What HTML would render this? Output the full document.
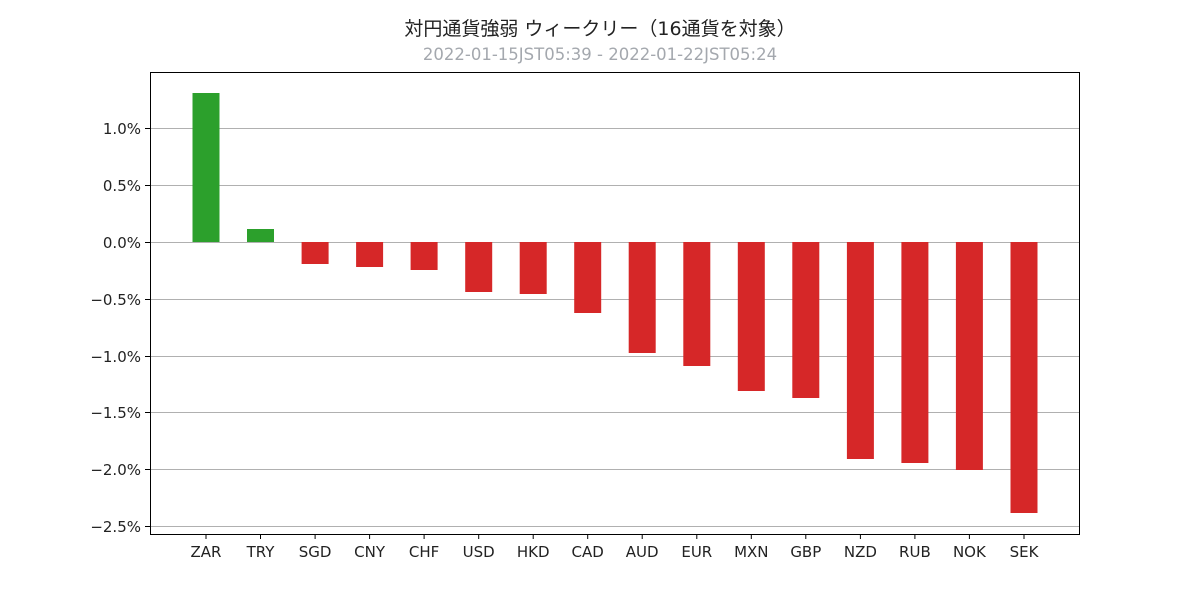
<!DOCTYPE html>
<html><head><meta charset="utf-8"><style>
body{margin:0;background:#fff;}
svg text{font-family:"DejaVu Sans","Noto Sans CJK JP",sans-serif;}
</style></head><body>
<svg width="1200" height="600" xmlns="http://www.w3.org/2000/svg">
<rect width="1200" height="600" fill="#fff"/>
<text x="600" y="35" text-anchor="middle" font-size="19" fill="#222">対円通貨強弱 ウィークリー（16通貨を対象）</text>
<text x="600" y="60" text-anchor="middle" font-size="16.5" fill="#a4a8ae">2022-01-15JST05:39 - 2022-01-22JST05:24</text>
<g stroke="#b0b0b0" stroke-width="1">
<line x1="150" x2="1080" y1="128.5" y2="128.5"/>
<line x1="150" x2="1080" y1="185.5" y2="185.5"/>
<line x1="150" x2="1080" y1="242.5" y2="242.5"/>
<line x1="150" x2="1080" y1="299.5" y2="299.5"/>
<line x1="150" x2="1080" y1="356.5" y2="356.5"/>
<line x1="150" x2="1080" y1="412.5" y2="412.5"/>
<line x1="150" x2="1080" y1="469.5" y2="469.5"/>
<line x1="150" x2="1080" y1="526.5" y2="526.5"/>
</g>
<g fill="#2ca02c">
<rect x="192.5" y="93" width="27" height="149"/>
<rect x="247" y="229" width="27" height="13"/>
</g>
<g fill="#d62728">
<rect x="301.6" y="242" width="27" height="22"/>
<rect x="356.1" y="242" width="27" height="25"/>
<rect x="410.6" y="242" width="27" height="28"/>
<rect x="465.2" y="242" width="27" height="50"/>
<rect x="519.7" y="242" width="27" height="52"/>
<rect x="574.2" y="242" width="27" height="71"/>
<rect x="628.7" y="242" width="27" height="111"/>
<rect x="683.3" y="242" width="27" height="124"/>
<rect x="737.8" y="242" width="27" height="149"/>
<rect x="792.3" y="242" width="27" height="156"/>
<rect x="846.9" y="242" width="27" height="217"/>
<rect x="901.4" y="242" width="27" height="221"/>
<rect x="955.9" y="242" width="27" height="228"/>
<rect x="1010.5" y="242" width="27" height="271"/>
</g>
<rect x="150.5" y="72.5" width="929" height="462" fill="none" stroke="#000" stroke-width="1"/>
<g stroke="#000">
<line x1="145" x2="150" y1="128.5" y2="128.5"/><line x1="145" x2="150" y1="185.5" y2="185.5"/>
<line x1="145" x2="150" y1="242.5" y2="242.5"/><line x1="145" x2="150" y1="299.5" y2="299.5"/>
<line x1="145" x2="150" y1="356.5" y2="356.5"/><line x1="145" x2="150" y1="412.5" y2="412.5"/>
<line x1="145" x2="150" y1="469.5" y2="469.5"/><line x1="145" x2="150" y1="526.5" y2="526.5"/>
</g>
<g font-size="15" fill="#222" text-anchor="end">
<text x="141" y="134">1.0%</text><text x="141" y="191">0.5%</text><text x="141" y="248">0.0%</text>
<text x="141" y="305">−0.5%</text><text x="141" y="362">−1.0%</text><text x="141" y="418">−1.5%</text>
<text x="141" y="475">−2.0%</text><text x="141" y="532">−2.5%</text>
</g>
<g font-size="15" fill="#222" text-anchor="middle">
<text x="206" y="557">ZAR</text><text x="260.5" y="557">TRY</text><text x="315.1" y="557">SGD</text>
<text x="369.6" y="557">CNY</text><text x="424.1" y="557">CHF</text><text x="478.7" y="557">USD</text>
<text x="533.2" y="557">HKD</text><text x="587.7" y="557">CAD</text><text x="642.2" y="557">AUD</text>
<text x="696.8" y="557">EUR</text><text x="751.3" y="557">MXN</text><text x="805.8" y="557">GBP</text>
<text x="860.4" y="557">NZD</text><text x="914.9" y="557">RUB</text><text x="969.4" y="557">NOK</text>
<text x="1024" y="557">SEK</text>
</g>
<g stroke="#000">
<line x1="206" x2="206" y1="534" y2="539"/><line x1="260.5" x2="260.5" y1="534" y2="539"/>
<line x1="315.1" x2="315.1" y1="534" y2="539"/><line x1="369.6" x2="369.6" y1="534" y2="539"/>
<line x1="424.1" x2="424.1" y1="534" y2="539"/><line x1="478.7" x2="478.7" y1="534" y2="539"/>
<line x1="533.2" x2="533.2" y1="534" y2="539"/><line x1="587.7" x2="587.7" y1="534" y2="539"/>
<line x1="642.2" x2="642.2" y1="534" y2="539"/><line x1="696.8" x2="696.8" y1="534" y2="539"/>
<line x1="751.3" x2="751.3" y1="534" y2="539"/><line x1="805.8" x2="805.8" y1="534" y2="539"/>
<line x1="860.4" x2="860.4" y1="534" y2="539"/><line x1="914.9" x2="914.9" y1="534" y2="539"/>
<line x1="969.4" x2="969.4" y1="534" y2="539"/><line x1="1024" x2="1024" y1="534" y2="539"/>
</g>
</svg>
</body></html>
